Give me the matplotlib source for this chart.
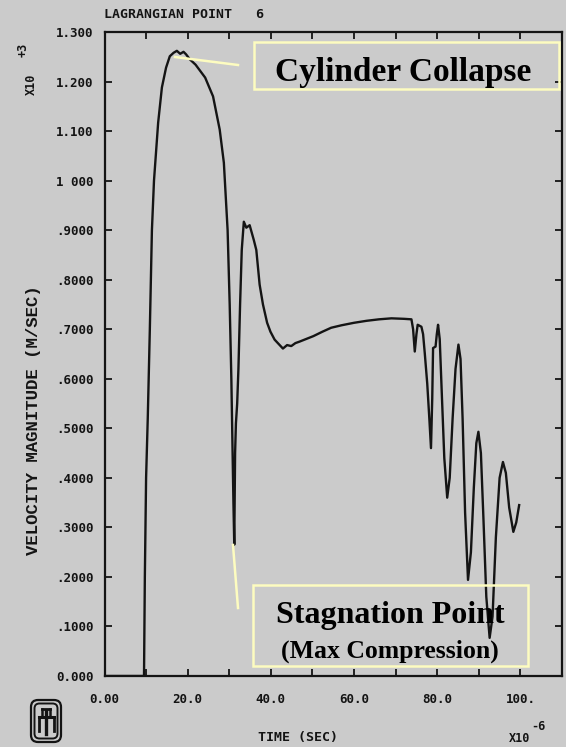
import matplotlib.pyplot as plt
from matplotlib.patches import FancyBboxPatch, Rectangle

# time in 1e-6 s, velocity in 1e3 m/s
# first rise and collapse peak
t_peak = [0, 9.5, 9.7, 10.0, 10.4, 10.9, 11.4, 11.9, 12.9, 13.8, 14.8, 15.7,
          16.6, 17.4, 18.2, 19.0, 19.6, 20.5, 21.9, 24.2, 26.1, 27.7, 28.7]
v_peak = [0, 0, 0.2, 0.4, 0.52, 0.7, 0.9, 1.0, 1.117, 1.188, 1.228, 1.251,
          1.258, 1.262, 1.256, 1.26, 1.255, 1.245, 1.234, 1.208, 1.17, 1.103, 1.036]
# drop to the stagnation point and rebound
t_dip = [29.6, 30.1, 30.5, 30.8, 31.0, 31.2, 31.4, 31.6, 31.9, 32.2, 32.6,
         33.0, 33.5, 34.1, 34.9, 35.9, 36.5, 37.3, 38.1, 39.1]
v_dip = [0.90, 0.75, 0.6, 0.45, 0.35, 0.265, 0.45, 0.51, 0.55, 0.62, 0.75,
         0.86, 0.917, 0.905, 0.91, 0.88, 0.86, 0.79, 0.75, 0.713]
# plateau
t_flat = [39.9, 40.9, 41.9, 42.9, 43.9, 44.9, 45.9, 46.9, 48.4, 50.2, 52.4,
          54.5, 57, 60, 63, 66, 69, 72, 73.8]
v_flat = [0.695, 0.679, 0.67, 0.661, 0.668, 0.666, 0.672, 0.675, 0.68, 0.686,
          0.695, 0.703, 0.708, 0.713, 0.717, 0.72, 0.722, 0.721, 0.72]
# late oscillations
t_osc = [74.2, 74.6, 75.0, 75.3, 76.2, 76.6, 77.0, 77.6, 78.1, 78.5, 78.8,
         79.0, 79.6, 79.9, 80.2, 80.6, 81.1, 81.7, 82.4, 83.0, 83.7, 84.4,
         85.1, 85.6, 86.1, 86.7, 87.4, 88.1, 88.8, 89.4, 89.9, 90.5, 91.1,
         91.8, 92.6, 93.3, 94.1, 95.0, 95.8, 96.5, 97.3, 98.3, 99.0, 99.7]
v_osc = [0.70, 0.655, 0.69, 0.709, 0.705, 0.69, 0.652, 0.59, 0.52, 0.46, 0.56,
         0.662, 0.665, 0.69, 0.709, 0.68, 0.57, 0.44, 0.36, 0.40, 0.52, 0.62,
         0.669, 0.64, 0.52, 0.33, 0.194, 0.25, 0.38, 0.47, 0.493, 0.45, 0.32,
         0.16, 0.077, 0.12, 0.28, 0.40, 0.432, 0.41, 0.34, 0.291, 0.31, 0.345]

xticks = [0, 20, 40, 60, 80, 100]
xlabels = ['0.00', '20.0', '40.0', '60.0', '80.0', '100.']
yticks = [0.0, 0.1, 0.2, 0.3, 0.4, 0.5, 0.6, 0.7, 0.8, 0.9, 1.0, 1.1, 1.2, 1.3]
ylabels = ['0.000', '.1000', '.2000', '.3000', '.4000', '.5000', '.6000',
           '.7000', '.8000', '.9000', '1 000', '1.100', '1.200', '1.300']

t = t_peak + t_dip + t_flat + t_osc
v = v_peak + v_dip + v_flat + v_osc

bg = '#cbcbcb'
ink = '#141414'
yel = '#fdfcc0'
mono = 'DejaVu Sans Mono'

W, H = 566, 747
fig = plt.figure(figsize=(W / 100, H / 100), dpi=100, facecolor=bg)
ax = fig.add_axes([104.5 / W, 1 - 676 / H, (562 - 104.5) / W, (676 - 32) / H])
ax.set_facecolor(bg)

ax.plot(t, v, color=ink, lw=1.7)

ax.set_xlim(0, 110)
ax.set_ylim(0, 1.3)
ax.set_xticks(range(0, 110, 10), minor=True)
ax.set_xticks(xticks)
ax.set_xticklabels(xlabels)
ax.set_yticks(yticks)
ax.set_yticklabels(ylabels)
for s in ax.spines.values():
    s.set_linewidth(1.6)
    s.set_color(ink)
ax.tick_params(which='both', direction='in', length=5, width=1.3, color=ink,
               top=True, right=True)
ax.tick_params(axis='x', pad=12)
ax.tick_params(axis='y', pad=8)
for lb in ax.get_xticklabels() + ax.get_yticklabels():
    lb.set_fontfamily(mono)
    lb.set_fontweight('bold')
    lb.set_fontsize(9)
    lb.set_color(ink)

def px(x, y):
    return x / W, 1 - y / H

txt = dict(family=mono, weight='bold', color=ink)
fig.text(*px(104, 15), 'LAGRANGIAN POINT   6', fontsize=9.5, va='center', **txt)
fig.text(*px(258, 738), 'TIME (SEC)', fontsize=9.5, va='center', **txt)
fig.text(*px(509, 739), 'X10', fontsize=8.5, va='center', **txt)
fig.text(*px(531, 727), '-6', fontsize=8.5, va='center', **txt)
fig.text(*px(34, 420), 'VELOCITY MAGNITUDE (M/SEC)', family='Liberation Mono',
         weight='bold', color=ink, fontsize=12.5, rotation=90,
         ha='center', va='center')
fig.text(*px(31, 84), 'X10', fontsize=8.5, rotation=90, ha='center', va='center', **txt)
fig.text(*px(23, 50), '+3', fontsize=8.5, rotation=90, ha='center', va='center', **txt)

# annotation boxes and pointer lines
fig.add_artist(Rectangle(px(254, 89), 305 / W, 47 / H, transform=fig.transFigure,
                         fill=False, ec=yel, lw=1.8))
fig.text(*px(403, 72), 'Cylinder Collapse', family='Liberation Serif',
         weight='bold', fontsize=24, color='black', ha='center', va='center')
fig.add_artist(plt.Line2D([175 / W, 238 / W], [1 - 57 / H, 1 - 65 / H],
                          transform=fig.transFigure, color=yel, lw=1.8))

fig.add_artist(Rectangle(px(253, 666), 275 / W, 81 / H, transform=fig.transFigure,
                         fill=False, ec=yel, lw=1.8))
fig.text(*px(390, 616), 'Stagnation Point', family='Liberation Serif',
         weight='bold', fontsize=23, color='black', ha='center', va='center')
fig.text(*px(390, 651), '(Max Compression)', family='Liberation Serif',
         weight='bold', fontsize=18.5, color='black', ha='center', va='center')
fig.add_artist(plt.Line2D([233 / W, 238 / W], [1 - 545 / H, 1 - 608 / H],
                          transform=fig.transFigure, color=yel, lw=1.8))

# logo in the lower left corner
lg = fig.add_axes([29 / W, 1 - 744 / H, 34 / W, 46 / H])
lg.set_xlim(0, 34)
lg.set_ylim(0, 46)
lg.axis('off')
lg.add_patch(FancyBboxPatch((2, 2), 30, 42, boxstyle='round,pad=0,rounding_size=7',
                            fill=False, ec=ink, lw=1.6))
lg.add_patch(FancyBboxPatch((5.5, 5.5), 23, 35, boxstyle='round,pad=0,rounding_size=5',
                            fill=False, ec=ink, lw=1.4))
lg.plot([17, 17], [10, 33], color=ink, lw=2.4)
lg.plot([9.5, 24.5], [27, 27], color=ink, lw=2.2)
lg.plot([9.5, 9.5], [27, 13], color=ink, lw=2.0)
lg.plot([24.5, 24.5], [27, 13], color=ink, lw=2.0)
lg.plot([13, 21], [35, 35], color=ink, lw=2.0)
lg.plot([13, 13], [35, 29], color=ink, lw=1.8)
lg.plot([21, 21], [35, 29], color=ink, lw=1.8)

fig.savefig('out.png', dpi=100, facecolor=bg)
